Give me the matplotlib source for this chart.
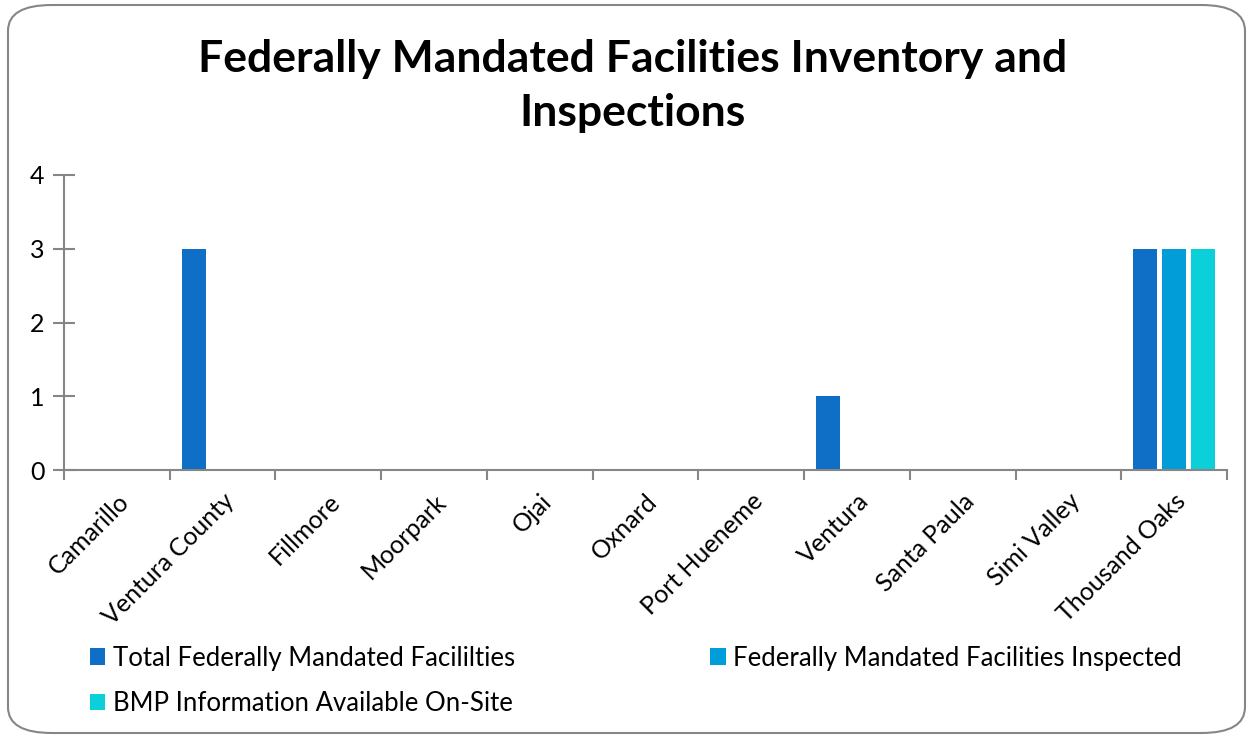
import matplotlib.pyplot as plt
import numpy as np
from matplotlib.patches import FancyBboxPatch

cities = ["Camarillo", "Ventura County", "Fillmore", "Moorpark", "Ojai", "Oxnard",
          "Port Hueneme", "Ventura", "Santa Paula", "Simi Valley", "Thousand Oaks"]
total_facilities = [0, 3, 0, 0, 0, 0, 0, 1, 0, 0, 3]
inspected = [0, 0, 0, 0, 0, 0, 0, 0, 0, 0, 3]
bmp_onsite = [0, 0, 0, 0, 0, 0, 0, 0, 0, 0, 3]

series_names = ["Total Federally Mandated Facililties",
                "Federally Mandated Facilities Inspected",
                "BMP Information Available On-Site"]
colors = ["#0F6FC6", "#009DD9", "#0BD0D9"]

plt.rcParams['font.family'] = ['Lato', 'DejaVu Sans']

fig = plt.figure(figsize=(12.53, 7.38), dpi=100)
ax = fig.add_axes([64 / 1253, 1 - 470 / 738, (1227 - 64) / 1253, (470 - 175) / 738])

x = np.arange(len(cities))
width = 0.227
step = 0.275
for k, (vals, name, c) in enumerate(zip([total_facilities, inspected, bmp_onsite], series_names, colors)):
    ax.bar(x + (k - 1) * step, vals, width, color=c, label=name)

ax.set_xlim(-0.5, len(cities) - 0.5)
ax.set_ylim(0, 4)
ax.set_yticks([0, 1, 2, 3, 4])
ax.set_xticks(np.arange(len(cities) + 1) - 0.5)
ax.set_xticklabels([])
ax.set_xticks(x, minor=True)
ax.set_xticklabels(cities, minor=True, rotation=45, ha='right', rotation_mode='anchor', fontsize=18)
ax.tick_params(axis='x', which='minor', length=0, pad=14)
ax.tick_params(axis='x', which='major', length=7, color='#868686', width=1.5)
ax.tick_params(axis='y', direction='inout', length=16, color='#868686', width=1.5, labelsize=18, pad=6)
for s in ['top', 'right']:
    ax.spines[s].set_visible(False)
for s in ['left', 'bottom']:
    ax.spines[s].set_color('#868686')
    ax.spines[s].set_linewidth(1.5)

fig.text(0.505, 1 - 86 / 738, "Federally Mandated Facilities Inventory and\nInspections",
         ha='center', va='center', fontsize=32, fontweight='bold', linespacing=1.42)

h, l = ax.get_legend_handles_labels()
order = [0, 2, 1]
fig.legend([h[i] for i in order], [l[i] for i in order], ncol=2, loc='upper left',
           bbox_to_anchor=(82 / 1253, 1 - 638 / 738), frameon=False, fontsize=18.5,
           handlelength=0.6, handleheight=0.6, handletextpad=0.3, columnspacing=7.6,
           labelspacing=0.78, borderaxespad=0, borderpad=0.3)

fig.patches.append(FancyBboxPatch((8 / 1253, 5 / 738), 1 - 16 / 1253, 1 - 10 / 738,
                                  boxstyle="round,pad=0,rounding_size=0.035",
                                  transform=fig.transFigure, fill=False,
                                  edgecolor='#868686', linewidth=1.5))

fig.savefig("out.png", dpi=100)
